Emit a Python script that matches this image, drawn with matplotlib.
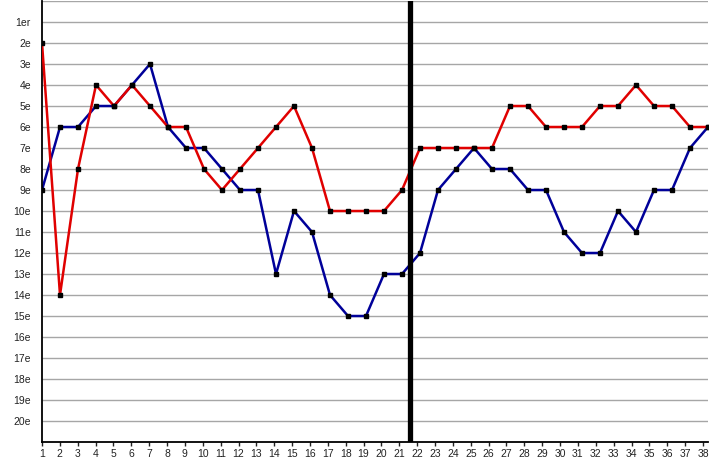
import matplotlib
matplotlib.use("Agg")
import matplotlib.pyplot as plt

# journees 1..38, classement (rang) de deux equipes
journees = list(range(1, 39))
rang_rouge = [2, 14, 8, 4, 5, 4, 5, 6, 6, 8, 9, 8, 7, 6, 5, 7, 10, 10, 10, 10, 9,
              7, 7, 7, 7, 7, 5, 5, 6, 6, 6, 5, 5, 4, 5, 5, 6, 6]
rang_bleu = [9, 6, 6, 5, 5, 4, 3, 6, 7, 7, 8, 9, 9, 13, 10, 11, 14, 15, 15, 13, 13,
             12, 9, 8, 7, 8, 8, 9, 9, 11, 12, 12, 10, 11, 9, 9, 7, 6]
rangs = list(range(1, 21))
rang_labels = ["1er"] + [str(r) + "e" for r in rangs[1:]]
coupure = 21.45

plt.rcParams['font.family'] = ['Liberation Sans', 'DejaVu Sans']

fig = plt.figure(figsize=(7.12, 4.62), dpi=100)
ax = fig.add_axes([42 / 712, 20 / 462, 666 / 712, 441 / 462])

for r in range(0, 21):
    ax.axhline(r, color="#a6a6a6", lw=1.0, zorder=0)

ax.plot(journees, rang_bleu, color="#000099", lw=1.8, zorder=2)
ax.plot(journees, rang_rouge, color="#e00000", lw=1.8, zorder=3)
ax.plot(journees, rang_bleu, ls="none", marker="s", ms=3, color="black", zorder=4)
ax.plot(journees, rang_rouge, ls="none", marker="s", ms=3, color="black", zorder=4)

ax.axvline(coupure, color="black", lw=3.8, zorder=5)

ax.set_xlim(1, 38)
ax.set_ylim(21, 0)
# the category axis in the original is slightly narrower than the plotted points
ticks_x = [1 + (j - 1) * 0.9925 for j in journees]
ax.set_xticks(ticks_x)
ax.set_xticklabels([str(j) for j in journees])
ax.set_yticks(rangs)
ax.set_yticklabels(rang_labels)
ax.tick_params(axis="x", length=3, width=1, pad=2, labelsize=7.5, colors="#222222")
ax.tick_params(axis="y", length=0, pad=8, labelsize=7.5, colors="#222222")
for s in ["top", "right"]:
    ax.spines[s].set_visible(False)
ax.spines["left"].set_linewidth(1.3)
ax.spines["bottom"].set_linewidth(1.3)

fig.savefig("out.png", dpi=100)
